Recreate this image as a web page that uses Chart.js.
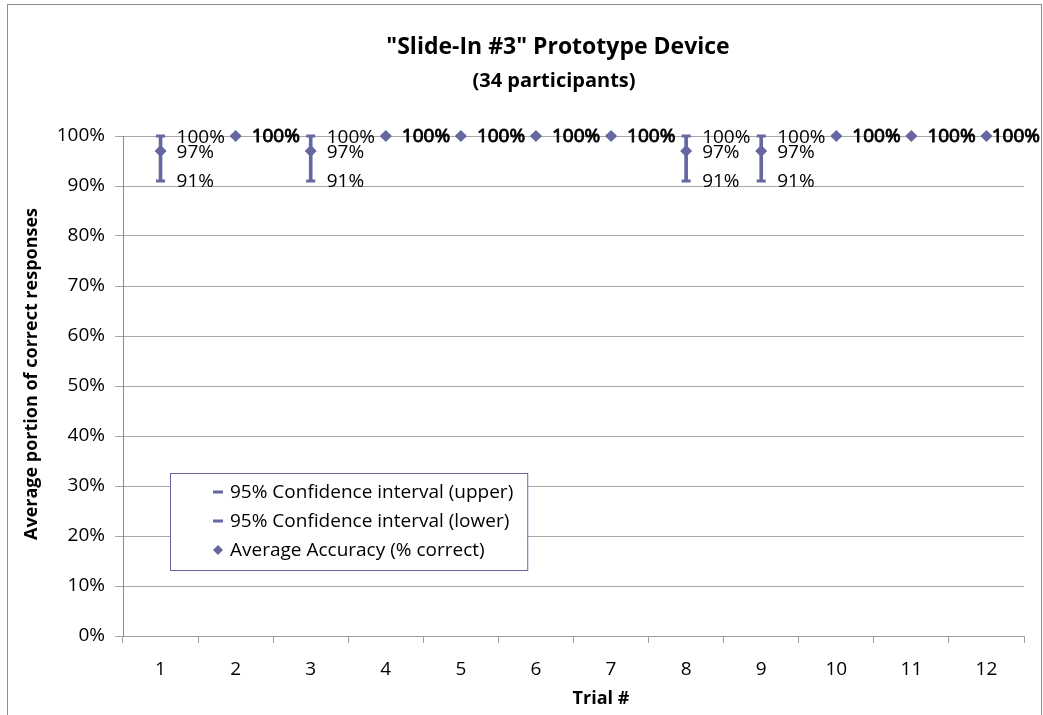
<!DOCTYPE html>
<html>
<head>
<meta charset="utf-8">
<title>Slide-In #3 Prototype Device</title>
<script src="https://cdn.jsdelivr.net/npm/chart.js@4.4.1/dist/chart.umd.min.js"></script>
<style>
  html, body { margin: 0; padding: 0; background: #fff; }
  canvas { display: block; }
</style>
</head>
<body>
<canvas id="accuracyChart" width="1043" height="715"></canvas>
<script>
// data
const trials = ['1', '2', '3', '4', '5', '6', '7', '8', '9', '10', '11', '12'];
const average = [97, 100, 97, 100, 100, 100, 100, 97, 97, 100, 100, 100];
const ciUpper = [100, 100, 100, 100, 100, 100, 100, 100, 100, 100, 100, 100];
const ciLower = [91, 100, 91, 100, 100, 100, 100, 91, 91, 100, 100, 100];

const chartTitle = '"Slide-In #3" Prototype Device';
const chartSubtitle = '(34 participants)';
const xTitle = 'Trial #';
const yTitle = 'Average portion of correct responses';
const legendLabels = ['95% Confidence interval (upper)', '95% Confidence interval (lower)', 'Average Accuracy (% correct)'];

const ink = '#6666a0';
const FONT = '"Open Sans", sans-serif';
const pct = v => v + '%';

function diamond(ctx, x, y, r) {
  ctx.beginPath();
  ctx.moveTo(x, y - r);
  ctx.lineTo(x + r, y);
  ctx.lineTo(x, y + r);
  ctx.lineTo(x - r, y);
  ctx.closePath();
  ctx.fill();
}

// frame, titles, data labels and the boxed legend
const decorations = {
  id: 'decorations',
  beforeDraw(chart) {
    const ctx = chart.ctx;
    ctx.save();
    ctx.fillStyle = '#fff';
    ctx.fillRect(0, 0, chart.width, chart.height);
    ctx.strokeStyle = '#8c8c8c';
    ctx.lineWidth = 1;
    ctx.strokeRect(7.5, 4.5, 1034, 760);
    ctx.restore();
  },
  afterDatasetsDraw(chart) {
    const ctx = chart.ctx;
    const av = chart.getDatasetMeta(0).data;
    const up = chart.getDatasetMeta(1).data;
    const lo = chart.getDatasetMeta(2).data;
    ctx.save();
    ctx.fillStyle = '#000';
    ctx.strokeStyle = '#000';
    ctx.textBaseline = 'middle';
    ctx.textAlign = 'left';
    ctx.font = '19px ' + FONT;
    const place = (pt, text) => {
      const w = ctx.measureText(text).width;
      return Math.min(pt.x + 16, 1040 - w);
    };
    trials.forEach((t, i) => {
      if (ciUpper[i] === ciLower[i] && ciUpper[i] === average[i]) {
        // three labels stacked on one spot read as bold
        const text = pct(average[i]);
        const x = place(av[i], text);
        ctx.lineWidth = 0.9;
        ctx.fillText(text, x, av[i].y + 1);
        ctx.strokeText(text, x, av[i].y + 1);
      } else {
        ctx.fillText(pct(ciUpper[i]), place(up[i], pct(ciUpper[i])), up[i].y + 2);
        ctx.fillText(pct(average[i]), place(av[i], pct(average[i])), av[i].y + 2);
        ctx.fillText(pct(ciLower[i]), place(lo[i], pct(ciLower[i])), lo[i].y + 1);
      }
    });
    ctx.restore();
  },
  afterDraw(chart) {
    const ctx = chart.ctx;
    ctx.save();
    ctx.fillStyle = '#000';
    ctx.textAlign = 'center';
    ctx.textBaseline = 'alphabetic';
    ctx.font = 'bold 23px ' + FONT;
    ctx.fillText(chartTitle, 558, 54);
    ctx.font = 'bold 20px ' + FONT;
    ctx.fillText(chartSubtitle, 554, 87);

    ctx.font = 'bold 18px ' + FONT;
    ctx.textBaseline = 'middle';
    ctx.fillText(xTitle, 601, 699);
    ctx.save();
    ctx.translate(32, 374);
    ctx.rotate(-Math.PI / 2);
    ctx.fillText(yTitle, 0, 0, 338);
    ctx.restore();

    // legend
    ctx.font = '19px ' + FONT;
    const textW = Math.max(...legendLabels.map(l => ctx.measureText(l).width));
    const bx = 170.5, by = 473.5, bw = 230 - 170 + textW + 14, bh = 97;
    ctx.fillStyle = '#fff';
    ctx.fillRect(bx, by, bw, bh);
    ctx.strokeStyle = ink;
    ctx.lineWidth = 1;
    ctx.strokeRect(bx, by, bw, bh);
    ctx.textAlign = 'left';
    legendLabels.forEach((label, k) => {
      const y = 492 + k * 29;
      ctx.fillStyle = ink;
      if (k < 2) {
        ctx.fillRect(213, y - 1.5, 10, 3);
      } else {
        diamond(ctx, 218, y, 5);
      }
      ctx.fillStyle = '#000';
      ctx.fillText(label, 230, y + 1);
    });
    ctx.restore();
  }
};

new Chart(document.getElementById('accuracyChart'), {
  type: 'bar',
  data: {
    labels: trials,
    datasets: [
      {
        type: 'line',
        label: legendLabels[2],
        data: average,
        order: 0,
        clip: false,
        showLine: false,
        pointStyle: 'rectRot',
        pointRadius: 6,
        pointBorderWidth: 0,
        pointBackgroundColor: ink,
        pointBorderColor: ink
      },
      {
        type: 'line',
        label: legendLabels[0],
        data: ciUpper,
        order: 1,
        clip: false,
        showLine: false,
        pointStyle: 'line',
        pointRadius: 4.5,
        pointBorderWidth: 3,
        pointBorderColor: ink
      },
      {
        type: 'line',
        label: legendLabels[1],
        data: ciLower,
        order: 1,
        clip: false,
        showLine: false,
        pointStyle: 'line',
        pointRadius: 4.5,
        pointBorderWidth: 3,
        pointBorderColor: ink
      },
      {
        label: 'CI range',
        data: ciLower.map((v, i) => [v, ciUpper[i]]),
        order: 2,
        clip: false,
        backgroundColor: ink,
        barThickness: 3,
        borderWidth: 0
      }
    ]
  },
  options: {
    responsive: false,
    animation: false,
    events: [],
    layout: { padding: { top: 136, right: 19, left: 0, bottom: 0 } },
    plugins: {
      legend: { display: false },
      tooltip: { enabled: false },
      title: { display: false }
    },
    scales: {
      x: {
        offset: true,
        grid: {
          offset: true,
          drawOnChartArea: false,
          tickLength: 7,
          color: '#a0a0a0'
        },
        border: { color: '#a0a0a0' },
        ticks: {
          padding: 15,
          color: '#000',
          font: { family: FONT, size: 19 },
          maxRotation: 0
        },
        afterFit(scale) { scale.height = 79; }
      },
      y: {
        min: 0,
        max: 100,
        ticks: {
          stepSize: 10,
          padding: 10,
          color: '#000',
          font: { family: FONT, size: 19 },
          callback: v => pct(v)
        },
        grid: { color: '#a6a6a6', tickLength: 8 },
        border: { color: '#8c8c8c' },
        afterFit(scale) { scale.width = 123; }
      }
    }
  },
  plugins: [decorations]
});
</script>
</body>
</html>
